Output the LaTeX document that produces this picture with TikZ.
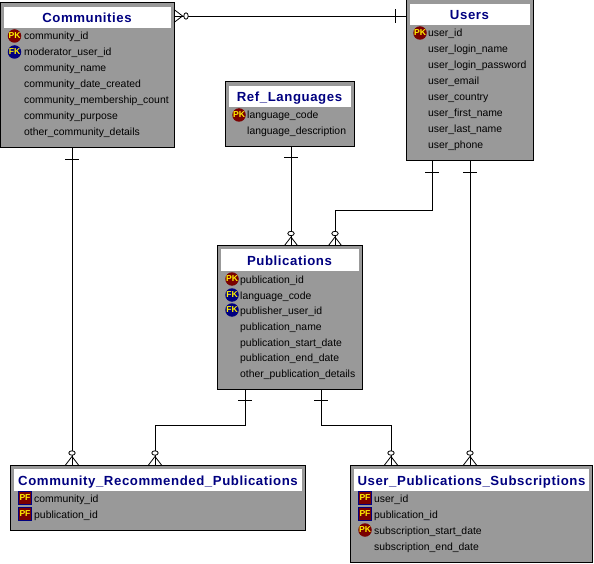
\documentclass[tikz,border=0pt]{standalone}
\usepackage{fontspec}
\setmainfont{Liberation Sans}
\newfontfamily\titlefont[LetterSpace=4.4]{Liberation Sans}
\usetikzlibrary{calc}
\definecolor{boxgray}{HTML}{999999}
\definecolor{pkred}{HTML}{7A0000}
\definecolor{fkblue}{HTML}{000080}
\tikzset{
    entity/.style={draw=black, fill=boxgray, line width=1pt, inner sep=0pt, outer sep=0pt},
    titlebar/.style={fill=white, inner sep=0pt, outer sep=0pt, text=fkblue, text height=10pt, text depth=0pt, font=\fontsize{13.2}{15}\titlefont\bfseries},
    colname/.style={anchor=west, inner sep=0pt, text height=10pt, text depth=2pt, font=\fontsize{10.4}{12}\selectfont},
    pkmark/.style={circle, fill=pkred, text=yellow, inner sep=0pt, minimum size=13.5pt, font=\fontsize{8.6}{8.6}\selectfont\bfseries},
    fkmark/.style={pkmark, fill=fkblue},
    pfmark/.style={rectangle, draw=fkblue, fill=pkred, text=yellow, inner sep=0pt, minimum size=12.5pt, line width=0.7pt, font=\fontsize{8.6}{8.6}\selectfont\bfseries},
    rel/.style={line width=0.95pt},
    crowline/.style={line width=0.8pt},
    pics/crowfoot/.style={code={
        \draw[crowline] (-6.5,0) -- (0,-8.5) -- (6.5,0);
        \draw[crowline, fill=white] (0,-12) ellipse (3.2 and 2.2);
    }},
    pics/onebar/.style={code={
        \draw[crowline] (-7,0) -- (7,0);
    }},
}
\begin{document}
\begin{tikzpicture}[x=1pt, y=-1pt]

    \useasboundingbox (0,0) rectangle (594,564);

    % Communities
    \node[entity, minimum width=174pt, minimum height=145pt] (comm) at (87,75.5) {};
    \node[titlebar, minimum width=167pt, minimum height=21pt] (commT) at (87,18) {Communities};
    \node[pkmark] (commK1) at (14.5,36) {PK};
    \node[fkmark] (commK2) at (14.5,52) {FK};
    \node[colname] (comm1) at (24,36) {community\_id};
    \node[colname] (comm2) at (24,52) {moderator\_user\_id};
    \node[colname] (comm3) at (24,68) {community\_name};
    \node[colname] (comm4) at (24,84) {community\_date\_created};
    \node[colname] (comm5) at (24,100) {community\_membership\_count};
    \node[colname] (comm6) at (24,116) {community\_purpose};
    \node[colname] (comm7) at (24,132) {other\_community\_details};

    % Users
    \node[entity, minimum width=127pt, minimum height=161pt] (users) at (469.5,80.5) {};
    \node[titlebar, minimum width=120pt, minimum height=21pt] (usersT) at (469.5,15) {Users};
    \node[pkmark] (usersK1) at (420,33) {PK};
    \node[colname] (users1) at (428,33) {user\_id};
    \node[colname] (users2) at (428,49) {user\_login\_name};
    \node[colname] (users3) at (428,65) {user\_login\_password};
    \node[colname] (users4) at (428,81) {user\_email};
    \node[colname] (users5) at (428,97) {user\_country};
    \node[colname] (users6) at (428,113) {user\_first\_name};
    \node[colname] (users7) at (428,129) {user\_last\_name};
    \node[colname] (users8) at (428,145) {user\_phone};

    % Ref_Languages
    \node[entity, minimum width=129pt, minimum height=65pt] (lang) at (289.5,114.5) {};
    \node[titlebar, minimum width=122pt, minimum height=21pt] (langT) at (289.5,96.5) {Ref\_Languages};
    \node[pkmark] (langK1) at (239,115) {PK};
    \node[colname] (lang1) at (247,115) {language\_code};
    \node[colname] (lang2) at (247,131) {language\_description};

    % Publications
    \node[entity, minimum width=145pt, minimum height=144pt] (pub) at (289.5,317.5) {};
    \node[titlebar, minimum width=138pt, minimum height=22pt] (pubT) at (289.5,260) {Publications};
    \node[pkmark] (pubK1) at (232,279) {PK};
    \node[fkmark] (pubK2) at (232,295) {FK};
    \node[fkmark] (pubK3) at (232,310) {FK};
    \node[colname] (pub1) at (240,279) {publication\_id};
    \node[colname] (pub2) at (240,295) {language\_code};
    \node[colname] (pub3) at (240,310) {publisher\_user\_id};
    \node[colname] (pub4) at (240,326) {publication\_name};
    \node[colname] (pub5) at (240,342) {publication\_start\_date};
    \node[colname] (pub6) at (240,357) {publication\_end\_date};
    \node[colname] (pub7) at (240,373) {other\_publication\_details};

    % Community_Recommended_Publications
    \node[entity, minimum width=294.5pt, minimum height=65pt] (crp) at (158,497.5) {};
    \node[titlebar, minimum width=288pt, minimum height=22pt] (crpT) at (158,480) {Community\_Recommended\_Publications};
    \node[pfmark] (crpK1) at (25,498) {PF};
    \node[pfmark] (crpK2) at (25,514) {PF};
    \node[colname] (crp1) at (34,498) {community\_id};
    \node[colname] (crp2) at (34,514) {publication\_id};

    % User_Publications_Subscriptions
    \node[entity, minimum width=241.5pt, minimum height=97pt] (ups) at (471.5,513.5) {};
    \node[titlebar, minimum width=235pt, minimum height=22pt] (upsT) at (471.5,480) {User\_Publications\_Subscriptions};
    \node[pfmark] (upsK1) at (365,498) {PF};
    \node[pfmark] (upsK2) at (365,514) {PF};
    \node[pkmark] (upsK3) at (365,530) {PK};
    \node[colname] (ups1) at (374,498) {user\_id};
    \node[colname] (ups2) at (374,514) {publication\_id};
    \node[colname] (ups3) at (374,530) {subscription\_start\_date};
    \node[colname] (ups4) at (374,546) {subscription\_end\_date};

    % relationships
    \draw[rel] (users.west |- 0,16) -- (comm.east |- 0,16);
    \draw[rel] (comm.south -| 72,0) -- (crp.north -| 72,0);
    \draw[rel] (lang.south -| 291,0) -- (pub.north -| 291,0);
    \draw[rel] (users.south -| 432,0) |- (335,210) -- (pub.north -| 335,0);
    \draw[rel] (users.south -| 470,0) -- (ups.north -| 470,0);
    \draw[rel] (pub.south -| 245,0) |- (155,425) -- (crp.north -| 155,0);
    \draw[rel] (pub.south -| 321,0) |- (391,425) -- (ups.north -| 391,0);

    % "one" ends
    \pic[rotate=90] at (395,16) {onebar};
    \pic at (72,159) {onebar};
    \pic at (291,157) {onebar};
    \pic at (432,172) {onebar};
    \pic at (470,172) {onebar};
    \pic at (245,400) {onebar};
    \pic at (321,400) {onebar};

    % "many" ends
    \pic[rotate=-90] at (comm.east |- 0,16) {crowfoot};
    \pic at (crp.north -| 72,0) {crowfoot};
    \pic at (crp.north -| 155,0) {crowfoot};
    \pic at (pub.north -| 291,0) {crowfoot};
    \pic at (pub.north -| 335,0) {crowfoot};
    \pic at (ups.north -| 391,0) {crowfoot};
    \pic at (ups.north -| 470,0) {crowfoot};

\end{tikzpicture}
\end{document}
